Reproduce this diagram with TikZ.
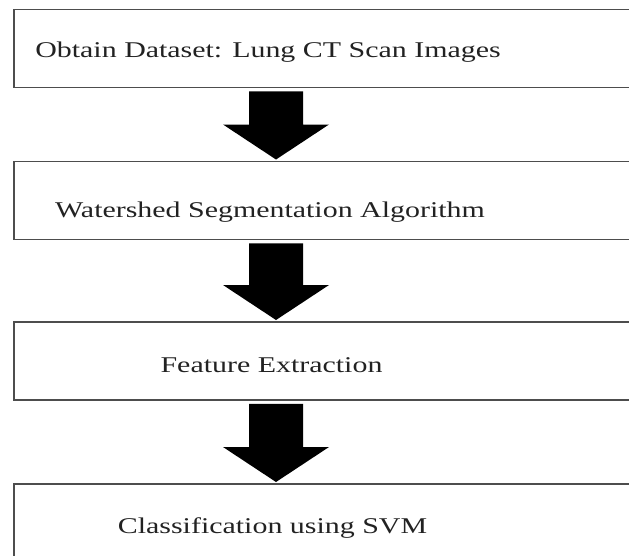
\documentclass[tikz,border=0pt]{standalone}
\usepackage{graphicx}
\usepackage{fontspec}
\setmainfont{Liberation Serif}
\usetikzlibrary{calc}

\definecolor{boxgray}{HTML}{4D4D4D}
\definecolor{textgray}{HTML}{222222}

\tikzset{
    stepbox/.style={draw=boxgray, line width=1.4pt, minimum width=16.15cm, minimum height=1.95cm, inner sep=0pt},
    steptext/.style={anchor=base, inner sep=0pt, text=textgray, font=\fontsize{16}{19}\selectfont},
    arrowfill/.style={fill=black},
}

% block arrow from the bottom of one box to the top of the next
\newcommand{\flowarrow}[2]{%
    \fill[arrowfill] ($(#1.south -| col)+(-27,3)$) -- ($(#1.south -| col)+(27,3)$)
        -- ($(#2.north -| col)+(27,-36)$) -- ($(#2.north -| col)+(53,-36)$)
        -- ($(#2.north -| col)+(0,-1)$) -- ($(#2.north -| col)+(-53,-36)$)
        -- ($(#2.north -| col)+(-27,-36)$) -- cycle;}

\begin{document}
\begin{tikzpicture}[x=0.025cm, y=-0.025cm]
    \useasboundingbox (0,0) rectangle (629,556);
    \clip (0,0) rectangle (629,556);
    \coordinate (col) at (276,0);

    % Dataset
    \node[stepbox] (obtain) at (337,48.5) {};
    \node[steptext] (obtaintext) at (268,58) {\scalebox{1.33}[1]{Obtain Dataset: Lung CT Scan Images}};

    % Segmentation
    \node[stepbox] (watershed) at (337,200.5) {};
    \node[steptext] (watershedtext) at (270,218) {\scalebox{1.33}[1]{Watershed Segmentation Algorithm}};

    % Features
    \node[stepbox] (feature) at (337,361) {};
    \node[steptext] (featuretext) at (271.5,372) {\scalebox{1.33}[1]{Feature Extraction}};

    % Classifier
    \node[stepbox] (classify) at (337,523) {};
    \node[steptext] (classifytext) at (272.5,533) {\scalebox{1.33}[1]{Classification using SVM}};

    % Arrows
    \flowarrow{obtain}{watershed}
    \flowarrow{watershed}{feature}
    \flowarrow{feature}{classify}
\end{tikzpicture}
\end{document}
